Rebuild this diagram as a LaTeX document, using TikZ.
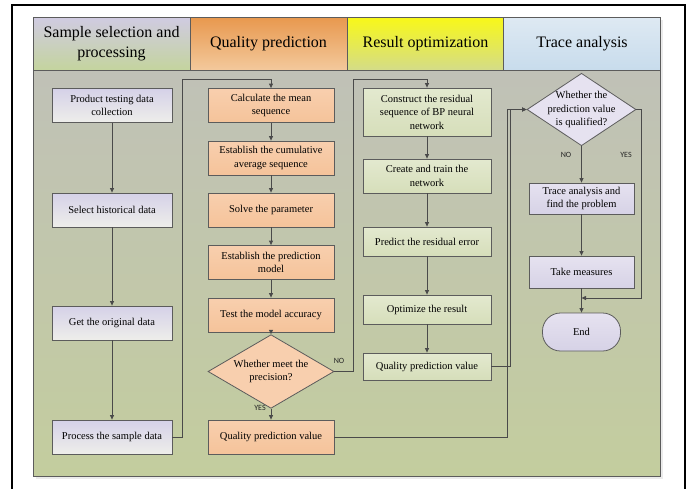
\documentclass[tikz,border=0pt]{standalone}
\usepackage{fontspec}
\setmainfont{Liberation Serif}
\newfontfamily\lblfont{Carlito}
\usetikzlibrary{shapes.geometric,arrows.meta}

\definecolor{boxline}{HTML}{5C5C5C}
\definecolor{conline}{HTML}{4A4A4A}

\tikzset{
  box/.style={draw=boxline, line width=0.8pt, inner sep=2pt, align=center,
    font=\fontsize{10.5}{13.5}\selectfont},
  selbox/.style={box, minimum width=120pt, minimum height=34pt,
    top color=Sel1, bottom color=Sel2},
  qpbox/.style={box, minimum width=126pt, minimum height=34pt,
    top color=Qp1, bottom color=Qp2},
  optbox/.style={box, minimum width=128pt, top color=Opt1, bottom color=Opt2},
  trbox/.style={box, minimum width=105pt, top color=Tr1, bottom color=Tr2},
  hdr/.style={draw=boxline, line width=0.8pt, minimum width=157pt, minimum height=53pt,
    align=center, font=\fontsize{16}{20}\selectfont},
  lbl/.style={font=\lblfont\fontsize{8}{9}\selectfont, text=black!85, inner sep=1pt},
  arr/.style={draw=conline, line width=0.8pt, -{Triangle[length=4.5pt,width=4pt]}},
}
\definecolor{Sel1}{HTML}{D5D1E8}
\definecolor{Sel2}{HTML}{EEEEEA}
\definecolor{Qp1}{HTML}{F8CFAE}
\definecolor{Qp2}{HTML}{F5C39A}
\definecolor{Opt1}{HTML}{E3E9CF}
\definecolor{Opt2}{HTML}{D6DEBA}
\definecolor{Tr1}{HTML}{E6E2F0}
\definecolor{Tr2}{HTML}{D6D2E6}

\begin{document}
\begin{tikzpicture}[x=1pt,y=-1pt]
  \def\xa{112}
  \def\xb{271}
  \def\xc{427}
  \def\xd{581.5}
  \useasboundingbox (0,0) rectangle (690,488);
  % frame and panel
  \draw[line width=1.6pt] (12,490) -- (12,5) -- (685,5) -- (685,490);
  \fill[black!8] (36,20) rectangle (663,479);
  \shade[top color={rgb,255:red,192;green,193;blue,183}, bottom color={rgb,255:red,195;green,205;blue,158}, draw=boxline, line width=0.8pt]
    (33,70) rectangle (660,476);
  %
  \node[hdr, top color={rgb,255:red,208;green,203;blue,226}, bottom color={rgb,255:red,196;green,212;blue,158}] (h1) at (111.5,43.5) {Sample selection and\\processing};
  \node[hdr, top color={rgb,255:red,232;green,152;blue,78}, bottom color={rgb,255:red,243;green,201;blue,156}] (h2) at (268.5,43.5) {Quality prediction};
  \node[hdr, top color={rgb,255:red,248;green,248;blue,24}, bottom color={rgb,255:red,212;green,220;blue,136}] (h3) at (425.5,43.5) {Result optimization};
  \node[hdr, top color={rgb,255:red,222;green,233;blue,243}, bottom color={rgb,255:red,200;green,220;blue,236}] (h4) at (582,43.5) {Trace analysis};
  %
  \node[selbox] (p1) at (\xa,105.5) {Product testing data\\collection};
  \node[selbox] (p2) at (\xa,210) {Select historical data};
  \node[selbox] (p3) at (\xa,323) {Get the original data};
  \node[selbox] (p4) at (\xa,437) {Process the sample data};
  \draw[arr] (p1) -- (p2);
  \draw[arr] (p2) -- (p3);
  \draw[arr] (p3) -- (p4);
  %
  \node[qpbox] (q1) at (\xb,105.5) {Calculate the mean\\sequence};
  \node[qpbox] (q2) at (\xb,158) {Establish the cumulative\\average sequence};
  \node[qpbox] (q3) at (\xb,210) {Solve the parameter};
  \node[qpbox] (q4) at (\xb,262.5) {Establish the prediction\\model};
  \node[qpbox] (q5) at (\xb,315) {Test the model accuracy};
  \node[box, shape=diamond, fill=Qp1, minimum width=126pt, minimum height=51pt, inner sep=-6pt] (q6) at (\xb,371.5) {Whether meet the\\precision?};
  \node[qpbox] (q7) at (\xb,437) {Quality prediction value};
  \foreach \a/\b in {q1/q2,q2/q3,q3/q4,q4/q5,q5/q6,q6/q7}
    \draw[arr] (\a) -- (\b);
  \node[lbl] (yes1) at (260,408) {YES};
  \node[lbl] (no1) at (339,361) {NO};
  %
  \node[optbox, minimum height=48pt] (r1) at (\xc,112) {Construct the residual\\sequence of BP neural\\network};
  \node[optbox, minimum height=34pt] (r2) at (\xc,176) {Create and train the\\network};
  \node[optbox, minimum height=29pt] (r3) at (\xc,241.5) {Predict the residual error};
  \node[optbox, minimum height=29pt] (r4) at (\xc,309.5) {Optimize the result};
  \node[optbox, minimum height=27pt] (r5) at (\xc,366.5) {Quality prediction value};
  \foreach \a/\b in {r1/r2,r2/r3,r3/r4,r4/r5}
    \draw[arr] (\a) -- (\b);
  %
  \node[box, shape=diamond, fill=Tr1, minimum width=109pt, minimum height=63pt, inner sep=-8pt] (s1) at (\xd,109.5) {Whether the\\prediction value\\is qualified?};
  \node[trbox, minimum height=31pt] (s2) at (\xd,198.5) {Trace analysis and\\find the problem};
  \node[trbox, minimum height=32pt] (s3) at (\xd,272) {Take measures};
  \node[box, minimum width=78pt, minimum height=38pt, rounded corners=18pt, top color=Tr1, bottom color=Tr2] (s4) at (\xd,332) {End};
  \draw[arr] (s1) -- (s2);
  \draw[arr] (s2) -- (s3);
  \draw[arr] (s3) -- (s4);
  \node[lbl] (no2) at (566,155) {NO};
  \node[lbl] (yes2) at (626,155) {YES};
  %
  \coordinate (t1) at (182,79);
  \coordinate (t2) at (353,79);
  \coordinate (t3) at (510,109.5);
  \coordinate (t4) at (507,109.5);
  \coordinate (t5) at (641,298);
  \coordinate (t6) at (\xd,298);
  \draw[arr] (p4.east) -| (t1) -| (q1.north);
  \draw[arr] (q6.east) -| (t2) -| (r1.north);
  \draw[arr] (q7.east) -| (t4) -- (s1.west);
  \draw[arr] (r5.east) -| (t3) -- (s1.west);
  \draw[arr] (s1.east) -| (t5) -- (t6);
\end{tikzpicture}
\end{document}
